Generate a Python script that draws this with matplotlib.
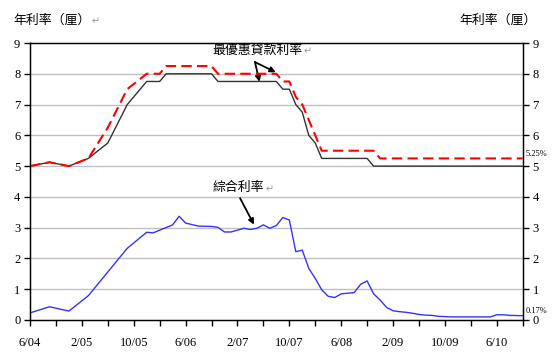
import matplotlib
matplotlib.use("Agg")
import matplotlib.pyplot as plt

plt.rcParams['font.family'] = ['Noto Sans CJK TC', 'DejaVu Sans']

# 月份索引 (0 = 2004年6月)
prime_low_m = [0, 3, 6, 9, 12, 15, 18, 20, 21, 28, 29, 38, 39, 40, 41, 42, 43, 44, 45, 52, 53, 76]
prime_low_v = [5.0, 5.125, 5.0, 5.25, 5.75, 7.0, 7.75, 7.75, 8.0, 8.0, 7.75, 7.75, 7.5, 7.5, 7.0, 6.75,
               6.0, 5.75, 5.25, 5.25, 5.0, 5.0]

prime_high_m = [0, 3, 6, 9, 12, 15, 18, 20, 21, 28, 29, 38, 39, 40, 41, 42, 43, 44, 45, 53, 54, 76]
prime_high_v = [5.0, 5.125, 5.0, 5.25, 6.25, 7.5, 8.0, 8.0, 8.25, 8.25, 8.0, 8.0, 7.75, 7.75, 7.25, 7.0,
                6.5, 6.0, 5.5, 5.5, 5.25, 5.25]

composite_m = [0, 3, 6, 9, 15, 18, 19, 20, 22, 23, 24, 26, 28, 29, 30, 31, 32, 33, 34, 35, 36, 37, 38,
               39, 40, 41, 42, 43, 44, 45, 46, 47, 48, 49, 50, 51, 52, 53, 54, 55, 56, 57, 58, 59, 60,
               61, 62, 63, 64, 65, 71, 72, 73, 74, 76]
composite_v = [0.23, 0.43, 0.29, 0.79, 2.33, 2.85, 2.83, 2.92, 3.09, 3.37, 3.15, 3.05, 3.04, 3.01, 2.86,
               2.86, 2.92, 2.98, 2.94, 2.98, 3.09, 2.98, 3.07, 3.33, 3.25, 2.22, 2.27, 1.68, 1.35, 0.98,
               0.77, 0.73, 0.85, 0.87, 0.89, 1.16, 1.27, 0.85, 0.65, 0.41, 0.30, 0.27, 0.25, 0.22, 0.18,
               0.16, 0.15, 0.12, 0.11, 0.10, 0.10, 0.17, 0.17, 0.15, 0.14]

tick_months = list(range(0, 77, 4))
tick_labels = ['6/04', '', '2/05', '', '10/05', '', '6/06', '', '2/07', '', '10/07', '',
               '6/08', '', '2/09', '', '10/09', '', '6/10', '']

W, H = 556, 354
fig = plt.figure(figsize=(W / 100, H / 100), dpi=100)
ax = fig.add_axes([30 / W, 1 - 320 / H, (522.7 - 30) / W, (320 - 43) / H])

num_font = dict(family='Liberation Serif', size=9)
zh_size = 9.3

# 格線
for v in range(1, 9):
    ax.axhline(v, color='#c0c0c0', lw=1, zorder=0)

ax.plot(prime_low_m, prime_low_v, color='#333333', lw=1.0, zorder=3)
ax.plot(prime_high_m, prime_high_v, color='#ff0000', lw=1.5, dashes=(5, 2.5), zorder=4)
ax.plot(composite_m, composite_v, color='#3333ff', lw=1.0, zorder=3)

ax.set_xlim(0, 76)
ax.set_ylim(0, 9)
ax.set_xticks(tick_months)
ax.set_xticklabels(tick_labels, fontdict=num_font)
ax.set_yticks(range(10))
ax.set_yticklabels([str(i) for i in range(10)], fontdict=num_font)
ax.tick_params(axis='x', direction='out', length=4, width=1, pad=8)
ax.tick_params(axis='y', direction='out', length=4, width=1, pad=3)
for s in ax.spines.values():
    s.set_color('black')
    s.set_linewidth(1)

ax2 = ax.twinx()
ax2.set_ylim(0, 9)
ax2.set_yticks(range(10))
ax2.set_yticklabels([str(i) for i in range(10)], fontdict=num_font)
ax2.tick_params(axis='y', direction='out', length=4, width=1, pad=3)

# 標題
fig.text(13 / W, 1 - 20 / H, '年利率（厘）', fontsize=zh_size, va='center', ha='left')
fig.text(92 / W, 1 - 21 / H, '↵', fontsize=7, color='#999999', va='center', ha='left')
fig.text(537 / W, 1 - 20 / H, '年利率（厘）', fontsize=zh_size, va='center', ha='right')

# 右側數值標記
ax.text(76.5, 5.25, '5.25%', fontsize=6, family='Liberation Serif', va='bottom', ha='left',
        clip_on=False)
ax.text(76.5, 0.17, '0.17%', fontsize=6, family='Liberation Serif', va='bottom', ha='left',
        clip_on=False)

# 註解
arrow = dict(arrowstyle='-|>', color='black', lw=1.3, mutation_scale=8, shrinkA=0, shrinkB=0)
ax.text(28.2, 8.77, '最優惠貸款利率', fontsize=zh_size, va='center', ha='left')
ax.text(42.2, 8.74, '↵', fontsize=7, color='#999999', va='center', ha='left')
ax.annotate('', xy=(35.4, 7.74), xytext=(34.7, 8.38), arrowprops=arrow)
ax.annotate('', xy=(37.9, 8.05), xytext=(34.7, 8.38), arrowprops=arrow)

ax.text(28.2, 4.29, '綜合利率', fontsize=zh_size, va='center', ha='left')
ax.text(36.3, 4.26, '↵', fontsize=7, color='#999999', va='center', ha='left')
ax.annotate('', xy=(34.55, 3.1), xytext=(32.4, 3.96), arrowprops=arrow)

fig.savefig('out.png', dpi=100)
